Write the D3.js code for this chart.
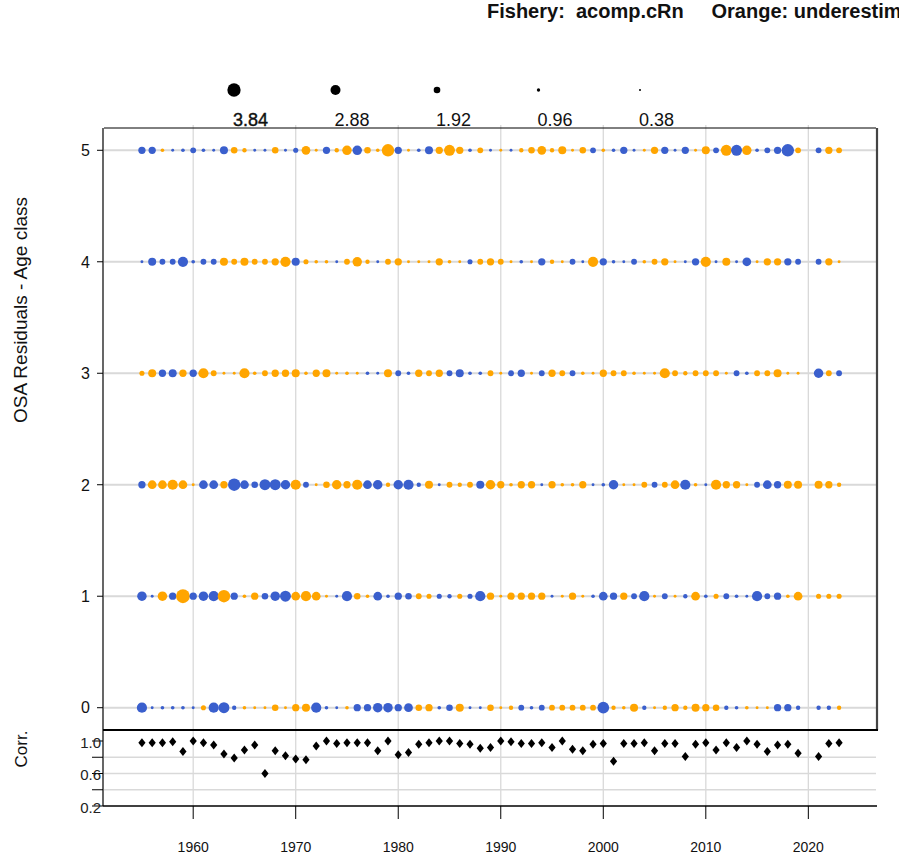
<!DOCTYPE html>
<html>
<head>
<meta charset="utf-8">
<script src="https://cdn.jsdelivr.net/npm/d3@7"></script>
<style>
  html, body { margin: 0; padding: 0; background: #ffffff; }
  svg { display: block; font-family: "Liberation Sans", Arial, sans-serif; }
</style>
</head>
<body>
<svg id="chart" width="899" height="856"></svg>
<script>
// ---------------- DATA ----------------
const years = [1955,1956,1957,1958,1959,1960,1961,1962,1963,1964,
               1965,1966,1967,1968,1969,1970,1971,1972,1973,1974,
               1975,1976,1977,1978,1979,1980,1981,1982,1983,1984,
               1985,1986,1987,1988,1989,1990,1991,1992,1993,1994,
               1995,1996,1997,1998,1999,2000,2001,2002,2003,2004,
               2005,2006,2007,2008,2009,2010,2011,2012,2013,2014,
               2015,2016,2017,2018,2019,2021,2022,2023];

const ageClasses = [0, 1, 2, 3, 4, 5];

// OSA residuals by age class (positive = orange / underestimation, negative = blue)
const age0 = [-2.8,-0.8,-1.0,-1.0,-1.0,-0.8, 1.4,-2.8,-3.0,-1.2,
               1.0, 0.8, 0.8, 1.8, 0.8, 2.0, 2.2,-2.8,-1.0,-0.8,
               1.0,-2.0,-2.0,-2.6,-2.6,-2.0,-2.4, 1.8, 2.0,-1.0,
              -1.8, 2.2,-0.8,-0.8, 1.8, 0.8, 1.2,-1.6,-1.0,-1.6,
               1.6, 1.6, 1.6, 1.6, 1.6,-3.2, 1.2, 1.0, 2.2,-1.2,
               0.8, 1.2, 2.0, 1.2, 2.2, 2.0, 1.8,-1.2,-1.0, 1.0,
               0.8, 0.8,-2.0,-2.0,-1.2,-1.2,-1.2, 1.2];
const age1 = [-2.6,-0.8, 2.6,-2.0, 3.8,-2.0,-2.6,-2.8, 3.4,-2.0,
               1.0, 2.0,-1.8,-2.6,-3.0, 2.4, 2.8, 2.4, 0.8,-0.8,
              -2.8, 1.8, 1.0,-2.4,-1.0,-2.0,-1.8, 1.6, 1.4,-1.4,
              -1.2, 1.4,-1.4,-2.8, 2.0, 0.8, 2.0, 2.0, 2.0, 2.0,
              -0.8, 0.8, 2.0, 0.8,-1.0,-2.4,-2.0, 2.0,-1.6,-2.8,
               0.8,-1.6, 0.8,-1.2, 2.4,-1.0, 1.4,-1.6,-1.0,-0.8,
              -2.8,-1.6,-2.0, 1.0, 2.4, 1.4, 1.4, 1.4];
const age2 = [-2.0, 2.4, 2.4, 2.8, 2.4, 0.8,-2.4,-2.4, 2.0,-3.4,
              -2.4,-1.8,-3.0,-3.0,-2.6, 2.8,-1.6, 0.8, 1.8, 2.6,
               2.0, 2.8,-2.4,-2.6, 1.2,-2.6,-2.8,-1.2, 2.2,-0.8,
               1.6, 1.2, 1.6,-2.2, 2.6, 2.0, 1.0, 2.0, 2.0,-0.8,
               2.0, 1.0, 1.0, 2.0,-0.8,-1.0,-2.6, 0.8, 0.8, 1.6,
              -1.6, 1.6, 2.4,-2.8, 1.0,-0.8, 2.8, 2.0, 2.0, 0.8,
              -1.6,-2.4,-2.0, 2.2, 2.2, 2.2, 2.0, 1.2];
const age3 = [ 1.4, 2.2,-2.0,-2.2, 2.0,-2.0, 2.8, 1.6, 0.8, 0.8,
               2.8, 1.0, 1.6, 2.0, 2.0, 2.2, 1.0, 2.0, 2.2, 0.8,
               1.0, 0.8,-1.0,-0.8, 2.2,-1.6,-1.0, 2.0, 1.6, 2.0,
              -1.6,-2.2,-1.0,-1.0, 1.6, 0.8,-1.6,-2.0, 0.8,-1.6,
               2.0, 1.6,-1.6, 1.0, 0.8, 2.0, 1.6, 1.6, 1.0, 0.8,
               0.8, 2.8, 1.6, 1.2, 1.6, 1.6, 1.6, 0.8,-1.6,-1.0,
               1.6, 1.6, 2.2, 0.8, 0.8,-2.6, 1.6,-1.6];
const age4 = [-0.8,-2.2,-1.6,-1.6,-2.8,-1.0,-1.6,-1.6, 2.2, 1.6,
               2.2, 1.6, 1.6, 2.0, 2.8,-2.2, 1.4, 1.0, 1.0,-0.8,
               1.6, 2.6, 1.2,-0.8, 1.6, 2.0, 0.8, 0.8, 0.8, 2.0,
               1.0, 0.8,-1.4, 1.6, 2.0, 1.6, 0.8,-1.0, 0.8,-2.0,
               1.2, 0.8,-1.6,-0.8, 2.8,-2.0,-1.0,-0.8,-1.6, 1.0,
               1.6, 2.0, 0.8,-0.8,-2.0, 2.8,-0.8, 2.2,-0.8,-2.4,
               0.8, 2.0, 2.0,-2.0,-1.6,-1.6, 2.0, 0.8];
const age5 = [-2.0,-2.0, 1.0,-0.8,-1.0,-1.6,-1.0,-0.8,-2.2, 1.8,
               1.2,-0.8,-0.8, 1.8,-0.8,-1.4, 2.4, 0.8,-2.0, 1.2,
               2.6,-2.6, 1.8, 1.0, 3.4,-2.0, 0.8,-1.0,-2.2, 2.0,
               3.0, 2.0,-1.0, 1.6,-0.8, 0.8,-0.8, 1.2, 1.8, 2.4,
               1.2, 2.2, 0.8, 1.8,-1.6, 1.0,-1.0,-2.0,-0.8, 0.8,
               2.0,-2.0,-0.8,-2.0, 0.8, 2.2,-1.6, 3.0,-3.0, 2.6,
              -1.0,-1.6,-2.0,-3.4, 1.6,-1.6, 2.0, 1.6];

// correlation by year (lower panel)
const corr = [0.98,0.98,0.98,0.99,0.87,1.00,0.98,0.95,0.84,0.79,
              0.89,0.95,0.60,0.88,0.82,0.78,0.77,0.94,1.00,0.97,
              0.98,0.98,0.98,0.88,1.00,0.83,0.86,0.96,0.98,1.00,
              1.00,0.97,0.96,0.91,0.92,1.00,0.99,0.97,0.97,0.98,
              0.92,1.00,0.90,0.88,0.96,0.97,0.75,0.97,0.97,0.98,
              0.88,0.97,0.97,0.81,0.96,0.98,0.89,0.98,0.92,1.00,
              0.96,0.87,0.95,0.96,0.85,0.81,0.97,0.98];

const legendValues = [3.84, 2.88, 1.92, 0.96, 0.38];
const legendLabels = ["3.84", "2.88", "1.92", "0.96", "0.38"];
const xTicks = [1960, 1970, 1980, 1990, 2000, 2010, 2020];
const corrTicks = [0.2, 0.4, 0.6, 0.8, 1.0];
const corrLabels = [1.0, 0.6, 0.2];
const titleText = "Fishery:  acomp.cRn     Orange: underestimation";

// ---------------- LAYOUT ----------------
const svg = d3.select("#chart");
const W = 899, H = 856;
const L = 104, R = 876, T = 128, MB = 730, CB = 806;
const colPos = "#FFA500", colNeg = "#3A5FCD", gridCol = "#d9d9d9";

svg.append("rect").attr("width", W).attr("height", H).attr("fill", "#fff");

const x = d3.scaleLinear().domain([1951.3, 2026.6]).range([L, R]);
const y = d3.scaleLinear().domain([-0.2, 5.2]).range([MB, T]);
const yc = d3.scaleLinear().domain([0.2, 1.0]).range([CB, 741]);
const r = d3.scaleLinear().domain([0, 3.84]).range([0, 7]);
const rad = v => Math.max(1.3, r(Math.abs(v)));

// ---------------- GRID ----------------
const grid = svg.append("g");
grid.selectAll("line.vg").data(xTicks).join("line")
  .attr("x1", d => x(d)).attr("x2", d => x(d))
  .attr("y1", T - 3).attr("y2", CB)
  .attr("stroke", gridCol).attr("stroke-width", 1.3);
grid.selectAll("line.hg").data(ageClasses).join("line")
  .attr("x1", L).attr("x2", R)
  .attr("y1", d => y(d)).attr("y2", d => y(d))
  .attr("stroke", gridCol).attr("stroke-width", 2);
grid.selectAll("line.cg").data([0.4, 0.6, 0.8]).join("line")
  .attr("x1", L).attr("x2", R)
  .attr("y1", d => yc(d)).attr("y2", d => yc(d))
  .attr("stroke", gridCol).attr("stroke-width", 1.5);

// ---------------- FRAMES ----------------
const frame = svg.append("g").attr("stroke", "#000").attr("fill", "none");
frame.append("line").attr("x1", L).attr("x2", R).attr("y1", T).attr("y2", T).attr("stroke-width", 1);
frame.append("line").attr("x1", L - 1).attr("x2", L - 1).attr("y1", T).attr("y2", CB).attr("stroke-width", 1.2);
frame.append("line").attr("x1", R + 1).attr("x2", R + 1).attr("y1", T).attr("y2", MB)
  .attr("stroke", "#444").attr("stroke-width", 2.2);
frame.append("line").attr("x1", L - 1).attr("x2", R + 2).attr("y1", MB).attr("y2", MB).attr("stroke-width", 1.8);
frame.append("line").attr("x1", L - 1).attr("x2", R + 1).attr("y1", CB).attr("y2", CB).attr("stroke-width", 1.5);

// ---------------- MAIN AXIS ----------------
const yAxisG = svg.append("g");
yAxisG.selectAll("line").data(ageClasses).join("line")
  .attr("x1", L - 7).attr("x2", L - 1)
  .attr("y1", d => y(d)).attr("y2", d => y(d))
  .attr("stroke", "#000").attr("stroke-width", 1);
yAxisG.selectAll("text").data(ageClasses).join("text")
  .attr("x", 90).attr("y", d => y(d)).attr("dy", "0.36em")
  .attr("text-anchor", "end").attr("font-size", 16).attr("fill", "#111")
  .text(d => d);

svg.append("text")
  .attr("transform", `translate(27,310) rotate(-90)`)
  .attr("text-anchor", "middle").attr("font-size", 19).attr("fill", "#111")
  .text("OSA Residuals - Age class");

// ---------------- BUBBLES ----------------
const series = [age0, age1, age2, age3, age4, age5];
const pts = [];
series.forEach((arr, ai) => arr.forEach((v, i) => {
  if (v !== null) pts.push({ year: years[i], age: ageClasses[ai], v });
}));
svg.append("g").selectAll("circle").data(pts).join("circle")
  .attr("cx", d => x(d.year)).attr("cy", d => y(d.age))
  .attr("r", d => rad(d.v))
  .attr("fill", d => d.v >= 0 ? colPos : colNeg);

// ---------------- LEGEND ----------------
const lx = d3.scalePoint().domain(legendLabels).range([234, 640]);
const leg = svg.append("g");
leg.selectAll("circle").data(legendValues).join("circle")
  .attr("cx", (d, i) => lx(legendLabels[i])).attr("cy", 90)
  .attr("r", d => Math.max(1, r(d) * 0.95)).attr("fill", "#000");
leg.selectAll("text").data(legendLabels).join("text")
  .attr("x", d => lx(d) - 1).attr("y", 126)
  .attr("font-size", 18).attr("fill", "#111")
  .attr("stroke", (d, i) => i === 0 ? "#111" : "none").attr("stroke-width", 0.4)
  .text(d => d);

// ---------------- TITLE ----------------
svg.append("text")
  .attr("x", 487).attr("y", 18)
  .attr("font-size", 20).attr("font-weight", "bold").attr("fill", "#111")
  .style("white-space", "pre").attr("xml:space", "preserve")
  .text(titleText);

// ---------------- CORR PANEL ----------------
const cAxis = svg.append("g");
cAxis.selectAll("line").data(corrTicks).join("line")
  .attr("x1", 92).attr("x2", L - 1)
  .attr("y1", d => yc(d)).attr("y2", d => yc(d))
  .attr("stroke", "#000").attr("stroke-width", 1);
cAxis.selectAll("text").data(corrLabels).join("text")
  .attr("x", 101).attr("y", d => yc(d)).attr("dy", "0.45em")
  .attr("text-anchor", "end").attr("font-size", 15).attr("fill", "#222")
  .text(d => d.toFixed(1));

svg.append("text")
  .attr("transform", `translate(27,749) rotate(-90)`)
  .attr("text-anchor", "middle").attr("font-size", 17).attr("fill", "#111")
  .text("Corr.");

const diamond = {
  draw(ctx, size) {
    const h = Math.sqrt(size) * 0.75, w = h * 0.8;
    ctx.moveTo(0, -h); ctx.lineTo(w, 0); ctx.lineTo(0, h); ctx.lineTo(-w, 0); ctx.closePath();
  }
};
svg.append("g").selectAll("path").data(corr).join("path")
  .attr("d", d3.symbol(diamond, 36))
  .attr("transform", (d, i) => `translate(${x(years[i])},${yc(d)})`)
  .attr("fill", "#000");

// ---------------- BOTTOM X AXIS ----------------
const xAxisG = svg.append("g");
xAxisG.selectAll("line").data(xTicks).join("line")
  .attr("x1", d => x(d)).attr("x2", d => x(d))
  .attr("y1", CB).attr("y2", CB + 13)
  .attr("stroke", "#000").attr("stroke-width", 1);
xAxisG.selectAll("text").data(xTicks).join("text")
  .attr("x", d => x(d)).attr("y", 852)
  .attr("text-anchor", "middle").attr("font-size", 14).attr("fill", "#111")
  .text(d => d);
</script>
</body>
</html>
